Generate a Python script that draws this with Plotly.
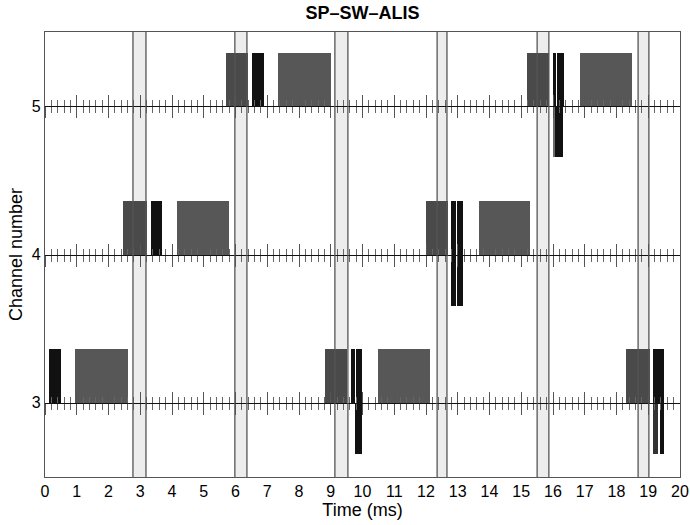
import plotly.graph_objects as go

# SP-SW-ALIS 通道时序图

channels = [3, 4, 5]

# 接收窗口（灰色块）
rx_chan = [3, 4, 5, 3, 4, 5]
rx_start = [0.94, 4.15, 7.34, 10.48, 13.67, 16.85]
rx_end = [2.62, 5.80, 9.00, 12.13, 15.28, 18.50]

# 发射前的深灰块
pre_chan = [4, 5, 3, 4, 5, 3]
pre_start = [2.47, 5.70, 8.82, 12.00, 15.18, 18.30]
pre_end = [3.20, 6.40, 9.50, 12.68, 15.87, 19.04]

# 发射脉冲（黑色，基线以上）
tx_up_chan = [3, 4, 5, 3, 3, 4, 4, 5, 5, 3]
tx_up_start = [0.13, 3.33, 6.52, 9.64, 9.80, 12.80, 12.98, 15.99, 16.14, 19.16]
tx_up_end = [0.50, 3.70, 6.90, 9.75, 9.98, 12.94, 13.17, 16.10, 16.35, 19.50]

# 发射脉冲（基线以下）
tx_dn_chan = [3, 4, 4, 5, 5, 3, 3]
tx_dn_start = [9.76, 12.80, 12.98, 15.99, 16.07, 19.16, 19.37]
tx_dn_end = [9.97, 12.94, 13.17, 16.07, 16.32, 19.31, 19.50]
tx_dn_color = ['#111111', '#111111', '#111111', '#6a6a6a', '#111111', '#333333', '#111111']

# 竖线对（周期边界）
pair_left = [2.77, 5.98, 9.13, 12.35, 15.50, 18.68]
pair_right = [3.18, 6.36, 9.54, 12.66, 15.87, 19.02]

up_h = 0.36
dn_h = 0.345
font = 'Liberation Sans'


def _bar(chan, start, end, h, color, below=False):
    # 用 base/width 画矩形块
    return go.Bar(
        x=[(s + e) / 2 for s, e in zip(start, end)],
        width=[e - s for s, e in zip(start, end)],
        y=[h] * len(chan),
        base=[c - h if below else c for c in chan],
        marker_color=color,
        marker_line_width=0,
        showlegend=False,
        hoverinfo='skip',
    )


fig = go.Figure()
fig.add_trace(_bar(rx_chan, rx_start, rx_end, up_h, '#575757'))
fig.add_trace(_bar(pre_chan, pre_start, pre_end, up_h, '#4a4a4a'))
fig.add_trace(_bar(tx_up_chan, tx_up_start, tx_up_end, up_h, '#111111'))
fig.add_trace(_bar(tx_dn_chan, tx_dn_start, tx_dn_end, dn_h, tx_dn_color, below=True))

# 每个通道的基线和刻度：用叠加的 x 轴画
ax_n = 2
for c in channels:
    pos = (c - 2.5) / 3
    for side_ticks in ['outside', 'inside']:
        name = f'xaxis{ax_n}'
        fig.add_trace(go.Scatter(x=[None], y=[None], xaxis=f'x{ax_n}', yaxis='y',
                                 showlegend=False, hoverinfo='skip'))
        fig.layout[name] = dict(
            overlaying='x', anchor='free', position=pos, side='bottom',
            range=[0, 20], showgrid=False, zeroline=False, showticklabels=False,
            showline=(side_ticks == 'outside'), linecolor='#111111', linewidth=1.3,
            ticks=side_ticks, tick0=0, dtick=1, ticklen=11, tickwidth=1.3, tickcolor='#555555',
            minor=dict(ticks=side_ticks, dtick=0.2, ticklen=6, tickwidth=1.2, tickcolor='#666666'),
        )
        ax_n += 1

# 竖线对和浅灰带
for l, r in zip(pair_left, pair_right):
    fig.add_shape(type='rect', xref='x', yref='paper', x0=l, x1=r, y0=0, y1=1,
                  fillcolor='#ededed', line_width=0, layer='below')
    for xv in (l, r):
        fig.add_shape(type='line', xref='x', yref='paper', x0=xv, x1=xv, y0=0, y1=1,
                      line=dict(color='#555555', width=1.3), layer='above')

fig.update_layout(
    barmode='overlay', bargap=0,
    width=690, height=525,
    margin=dict(l=45, r=10, t=32, b=48, autoexpand=False),
    paper_bgcolor='white', plot_bgcolor='white',
    font=dict(family=font, color='black', size=16),
    title=dict(text='<b>SP–SW–ALIS</b>', x=0.5, xref='paper', xanchor='center',
               y=1 - 12.5 / 525, yref='container', yanchor='middle', font=dict(size=18)),
    xaxis=dict(range=[0, 20], tick0=0, dtick=1, ticks='', tickfont=dict(size=16),
               showgrid=False, zeroline=False, showline=True, mirror=True,
               linecolor='#555555', linewidth=1.4,
               title=dict(text='Time (ms)', standoff=2, font=dict(size=18))),
    yaxis=dict(range=[2.5, 5.5], tickvals=channels, ticks='', tickfont=dict(size=16),
               showgrid=False, zeroline=False, showline=True, mirror=True,
               linecolor='#555555', linewidth=1.4,
               title=dict(text='Channel number', standoff=4, font=dict(size=18))),
)

# 去掉页面默认边距，使图与窗口对齐
fig.write_html('out.html', config={'displayModeBar': False},
               post_script="document.body.style.margin='0';")
